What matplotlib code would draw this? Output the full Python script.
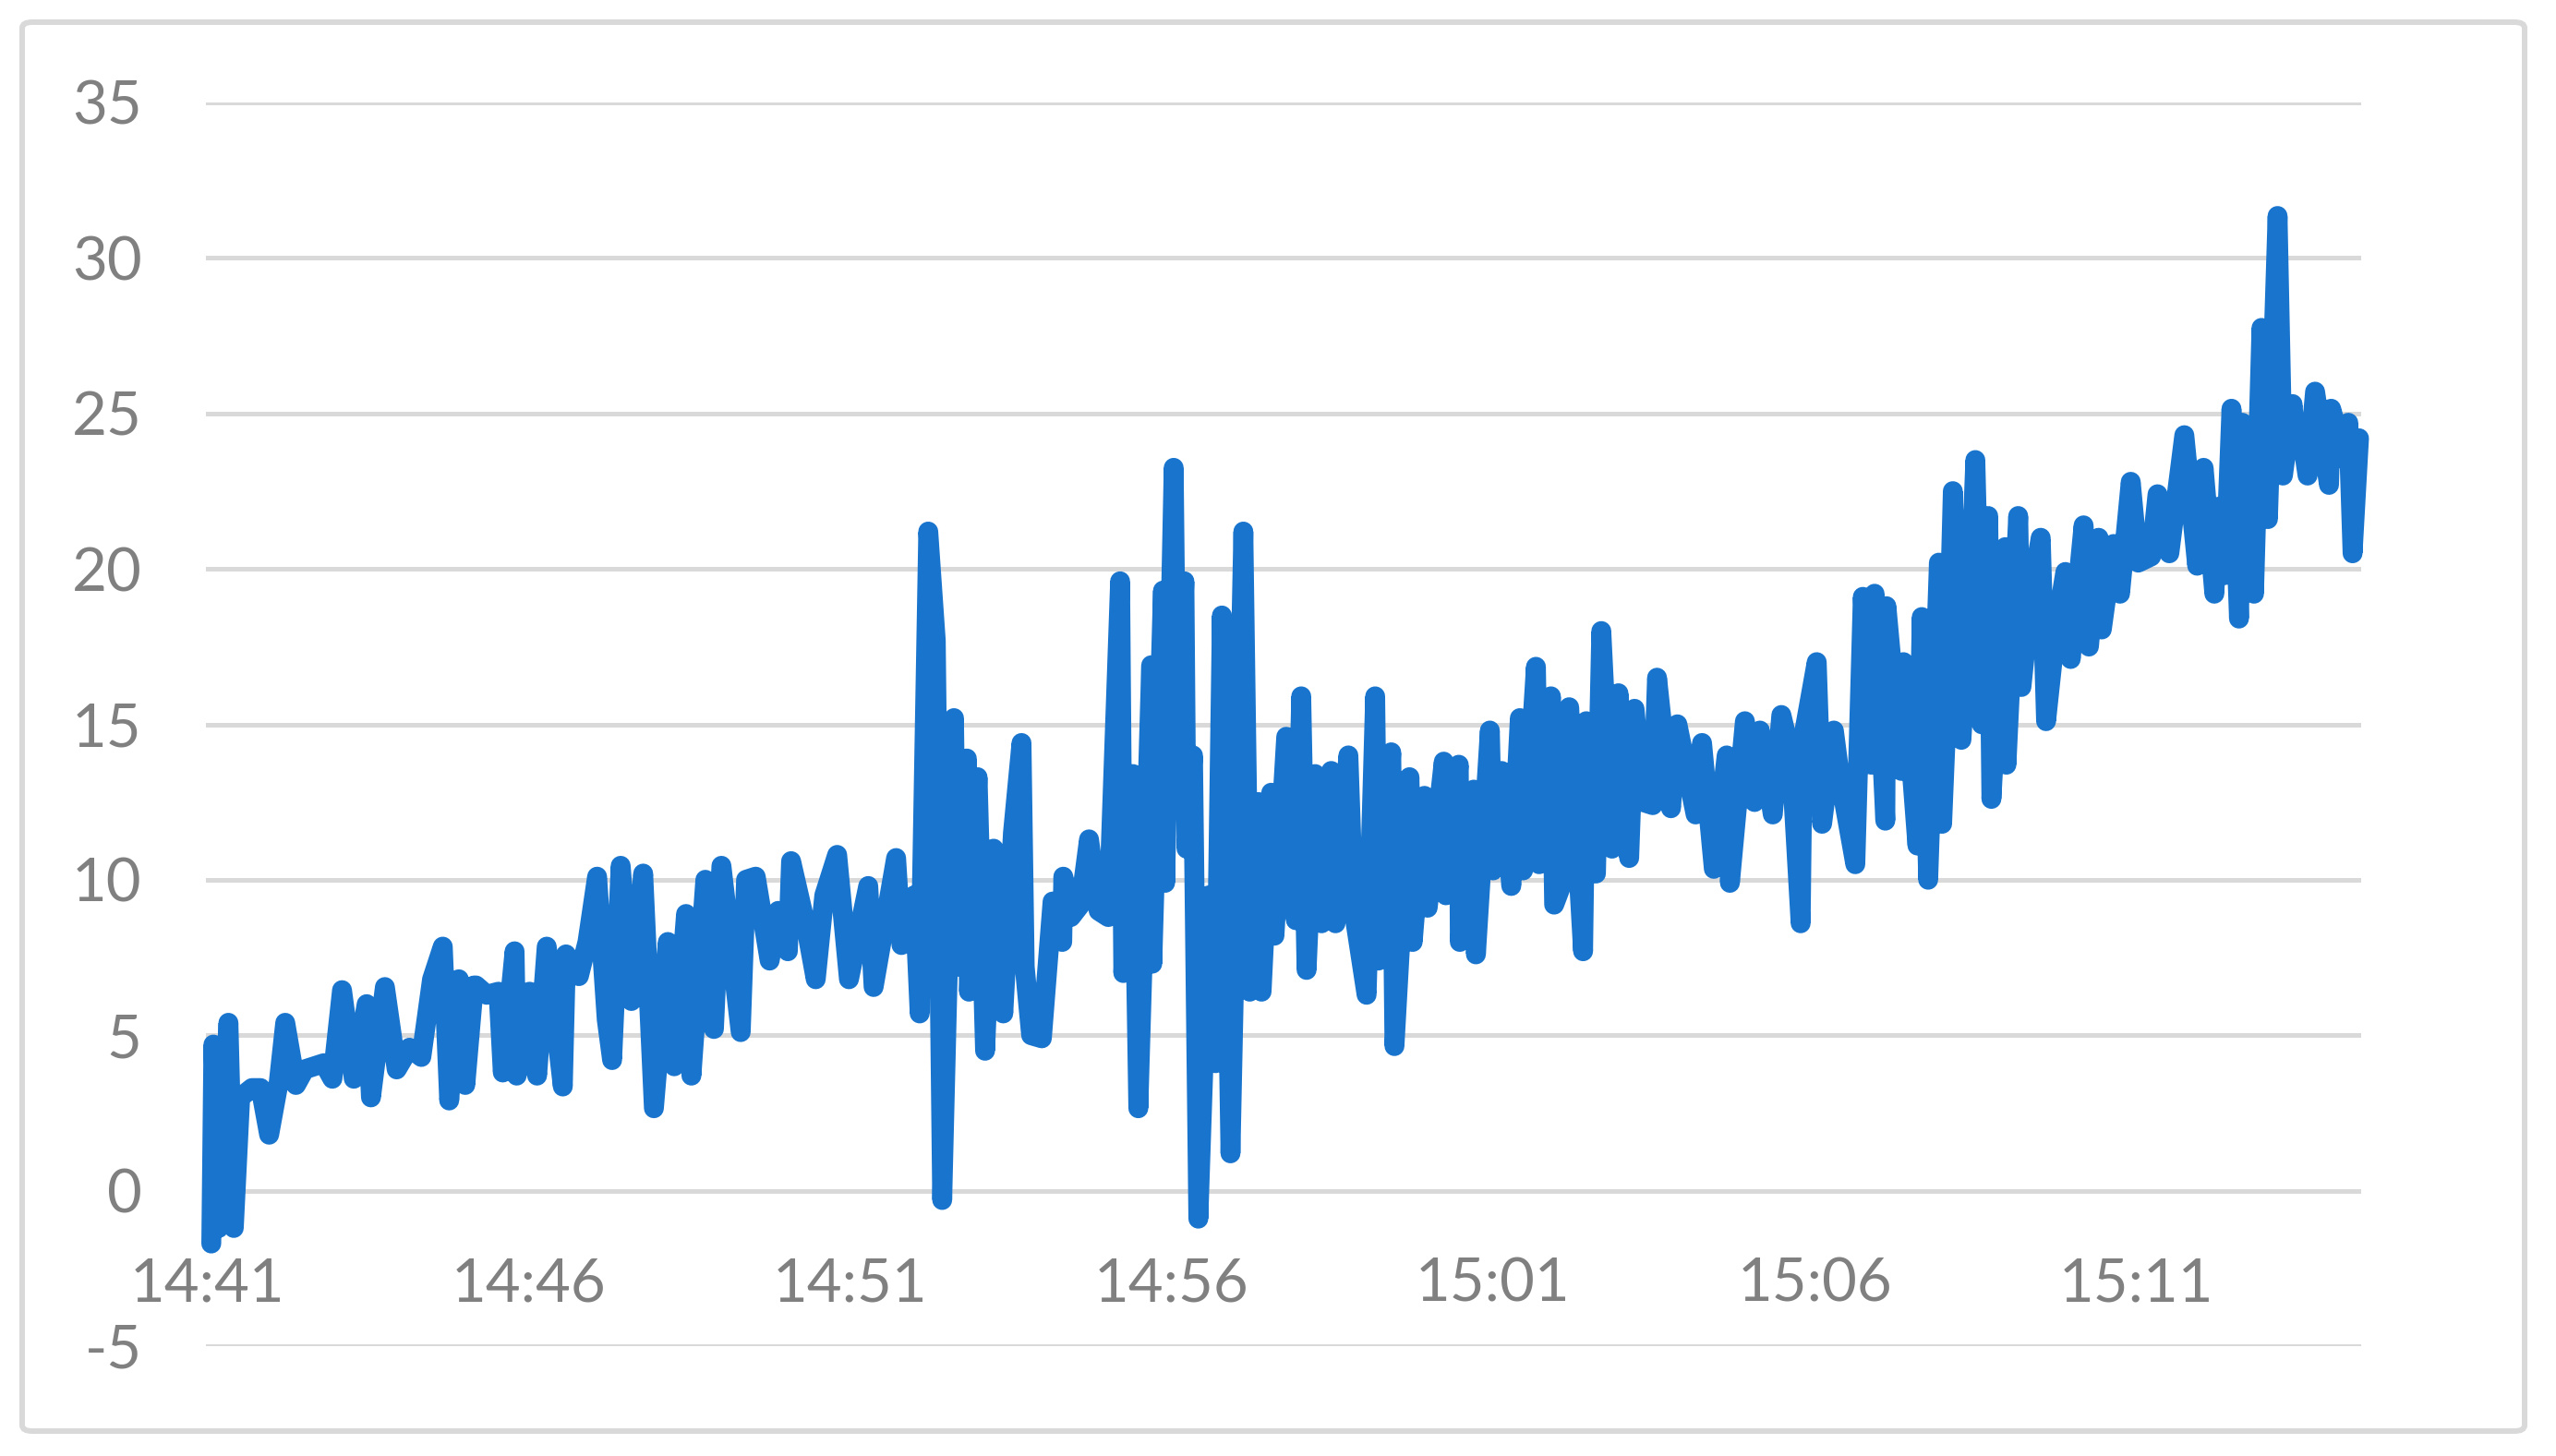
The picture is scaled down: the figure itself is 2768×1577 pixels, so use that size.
import matplotlib
matplotlib.use("Agg")
import matplotlib.pyplot as plt
from matplotlib.patches import FancyBboxPatch

seconds = [
    4, 6, 11, 20, 25, 31, 42, 50, 58, 67, 73, 83, 91, 109, 117, 126, 137, 149, 153, 166,
    177, 189, 200, 210, 220, 226, 235, 241, 249,
    # 14:45 - 14:49
    251, 261, 272, 276, 287, 289, 301, 308, 317, 332, 335, 347, 355, 364, 373, 378, 386,
    396, 407, 417, 430, 436, 447, 452, 465, 473, 480, 498, 503, 512,
    # 14:49 - 14:54
    525, 533, 542, 545, 559, 568, 576, 588, 599, 617, 622, 643, 648, 660, 665, 673, 680,
    686, 697, 700, 709, 711, 719, 726, 734, 743, 752, 760, 763, 769,
    # 14:54 - 14:58
    779, 789, 798, 799, 806, 815, 823, 832, 841, 852, 855, 864, 869, 881, 882, 892, 894,
    902, 905, 912, 914, 920, 925, 935, 941, 947, 955, 967, 973, 981, 984, 993, 996, 1007,
    1016, 1021, 1026,
    # 14:58 - 15:02
    1034, 1040, 1049, 1053, 1065, 1070, 1082, 1090, 1093, 1105, 1108, 1122, 1125, 1136,
    1139, 1154, 1156, 1168, 1169, 1182, 1184, 1197, 1200, 1208, 1217, 1225, 1228, 1240,
    1243, 1254, 1257, 1268, 1271, 1284, 1287,
    # 15:02 - 15:06
    1296, 1301, 1311, 1317, 1327, 1332, 1340, 1349, 1353, 1366, 1372, 1389, 1395, 1406,
    1418, 1421, 1435, 1444, 1449, 1461, 1469, 1478, 1487, 1489, 1502, 1507, 1518, 1524,
    1538, 1545,
    # 15:06 - 15:11
    1553, 1556, 1566, 1567, 1581, 1583, 1596, 1600, 1606, 1616, 1619, 1624, 1629, 1637,
    1645, 1650, 1656, 1662, 1665, 1678, 1679, 1690, 1693, 1702, 1711, 1716, 1725, 1734,
    1739, 1751, 1756, 1765, 1768, 1779, 1785, 1795, 1802,
    # 15:11 - end
    1814, 1820, 1831, 1845, 1857, 1863, 1873, 1877, 1883, 1889, 1896, 1899, 1910, 1917,
    1923, 1932, 1937, 1946, 1949, 1953, 1960, 1967, 1980, 1982, 1995, 1998, 2002, 2008,
]
values = [
    -1.7, 4.7, -1.2, 5.4, -1.2, 3.0, 3.3, 3.3, 1.8, 3.5, 5.4, 3.4, 3.9, 4.1, 3.6, 6.45,
    3.6, 6.0, 3.0, 6.55, 3.9, 4.6, 4.3, 6.8, 7.85, 2.9, 6.8, 3.4, 6.6,
    6.6, 6.3, 6.4, 3.8, 7.7, 3.7, 6.4, 3.7, 7.85, 3.35, 7.6, 6.9, 8.0, 10.1, 5.5, 4.2,
    10.45, 6.1, 10.2, 2.65, 8.0, 4.0, 8.9, 3.7, 10.0, 5.2, 10.45, 5.1, 10.0, 10.1,
    7.4, 9.0, 7.7, 10.6, 8.5, 6.8, 9.5, 10.8, 6.8, 9.8, 6.55, 10.7, 7.9, 9.5, 5.7, 21.2,
    17.7, -0.3, 15.2, 7.2, 13.9, 6.4, 13.3, 4.5, 11.0, 5.7, 11.5, 14.4, 7.2, 5.0,
    4.9, 9.3, 8.0, 10.1, 8.8, 9.2, 11.3, 9.0, 8.8, 19.6, 7.0, 13.4, 2.65, 16.9, 7.3, 19.3,
    9.9, 23.25, 13.7, 19.6, 11.0, 14.0, -0.9, 9.5, 4.1, 18.5, 1.2, 21.2, 6.4, 12.5, 6.4,
    12.8, 8.2, 14.6, 8.7, 15.9, 7.1,
    13.4, 8.6, 13.5, 8.6, 14.0, 9.0, 6.3, 15.9, 7.4, 14.1, 4.65, 13.3, 8.0, 12.7, 9.1,
    13.8, 9.5, 13.7, 8.0, 12.9, 7.6, 14.8, 10.3, 13.5, 9.8, 15.2, 10.3, 16.85, 10.5, 15.9,
    9.2, 10.2, 15.55, 7.7, 15.1,
    10.2, 18.0, 11.0, 16.0, 10.7, 15.5, 12.5, 12.4, 16.5, 12.3, 15.0, 12.1, 14.4, 10.35,
    14.0, 9.9, 15.1, 12.5, 14.8, 12.1, 15.3, 14.0, 8.6, 14.5, 17.0, 11.8, 14.8, 13.2,
    10.5, 19.1,
    13.7, 19.2, 11.9, 18.8, 13.5, 17.0, 11.1, 18.45, 10.0, 20.2, 11.8, 16.0, 22.5, 14.5,
    19.0, 23.5, 15.0, 21.7, 12.6, 20.7, 13.7, 21.7, 16.2, 19.2, 21.0, 15.1, 18.0, 19.9,
    17.1, 21.4, 17.5, 21.0, 18.05, 20.8, 19.2, 22.8, 20.2,
    20.4, 22.4, 20.5, 24.3, 20.1, 23.25, 19.2, 22.0, 19.8, 25.15, 18.4, 24.7, 19.2, 27.75,
    21.6, 31.35, 23.0, 25.3, 24.0, 24.6, 23.0, 25.7, 22.7, 25.15, 23.5, 24.7, 20.5, 24.2,
]

tick_seconds = [0, 300, 600, 900, 1200, 1500, 1800]
tick_labels = ["14:41", "14:46", "14:51", "14:56", "15:01", "15:06", "15:11"]
y_ticks = [-5, 0, 5, 10, 15, 20, 25, 30, 35]

plt.rcParams['font.family'] = ['Lato', 'DejaVu Sans']

fig = plt.figure(figsize=(27.68, 15.77), dpi=100)
fig.patches.append(FancyBboxPatch((24 / 2768, 27 / 1577), (2734 - 24) / 2768, (1553 - 27) / 1577,
                                  boxstyle="round,pad=0,rounding_size=0.004",
                                  transform=fig.transFigure, facecolor='none',
                                  edgecolor='#D9D9D9', lw=4.3, zorder=0))

ax = fig.add_axes([223 / 2768, 1 - 1458 / 1577, (2557 - 223) / 2768, (1458 - 111) / 1577])
ax.set_facecolor('none')
ax.plot(seconds, values, color='#1874CD', lw=15.5, solid_joinstyle='round',
        solid_capstyle='round', clip_on=False, zorder=3)

ax.set_xlim(-1, 2010)
ax.set_ylim(-5, 35)
ax.set_yticks(y_ticks)
ax.set_yticklabels([str(v) for v in y_ticks])
ax.set_xticks(tick_seconds)
ax.set_xticklabels(tick_labels)

ax.yaxis.grid(True, color='#D9D9D9', lw=3.6)
ax.set_axisbelow(True)
for s in ax.spines.values():
    s.set_visible(False)
ax.spines['bottom'].set_position(('data', 0))

ax.tick_params(axis='y', length=0, pad=50, labelsize=47, labelcolor='#808080')
ax.tick_params(axis='x', length=0, pad=52, labelsize=47, labelcolor='#808080')

fig.savefig('out.png', dpi=100, facecolor='white')
